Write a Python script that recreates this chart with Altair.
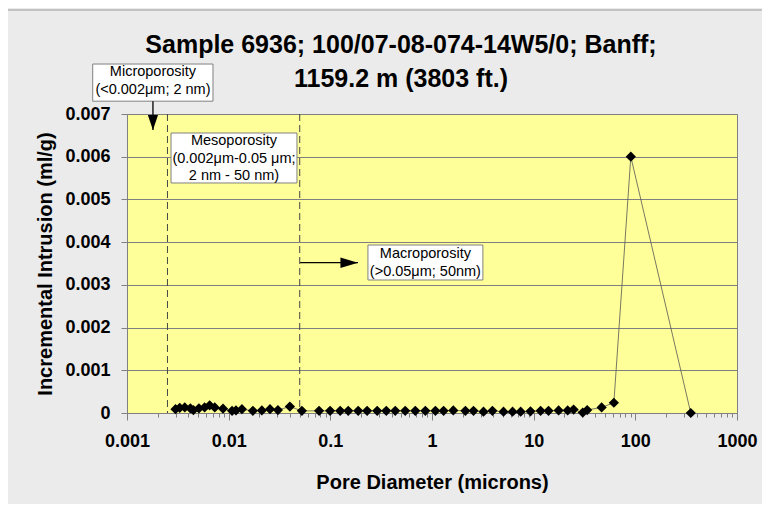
import altair as alt
import pandas as pd

# ---- data ----
diameter = [0.0030, 0.0033, 0.0037, 0.0042, 0.0045, 0.0051, 0.0058, 0.0065, 0.0073, 0.0088,
            0.0108, 0.0118, 0.0135, 0.0173, 0.0212, 0.0255, 0.0305, 0.0400, 0.0525,
            0.0775, 0.0995, 0.125, 0.150, 0.188, 0.230, 0.289, 0.355, 0.435, 0.545,
            0.685, 0.860, 1.08, 1.30, 1.62, 2.13, 2.56, 3.21, 3.93, 5.05, 6.20, 7.45,
            9.30, 11.7, 14.0, 17.6, 21.6, 24.7, 30.4, 33.6, 46.6, 61.5, 90.3, 351.0]
intrusion = [0.00009, 0.00012, 0.00013, 0.00011, 0.00007, 0.00011, 0.00013, 0.00018, 0.00013, 0.00010,
             0.00005, 0.00006, 0.00009, 0.00005, 0.00006, 0.00009, 0.00007, 0.00015, 0.00005,
             0.00005, 0.00005, 0.00005, 0.00005, 0.00005, 0.00005, 0.00005, 0.00005, 0.00005, 0.00005,
             0.00005, 0.00005, 0.00005, 0.00005, 0.00006, 0.00005, 0.00005, 0.00003, 0.00005, 0.00003,
             0.00003, 0.00003, 0.00004, 0.00005, 0.00005, 0.00006, 0.00006, 0.00008, 0.00001, 0.00007,
             0.00013, 0.00024, 0.0060, 0.0]

y_ticks = [0, 0.001, 0.002, 0.003, 0.004, 0.005, 0.006, 0.007]
x_major = [0.001, 0.01, 0.1, 1, 10, 100, 1000]
x_minor = [m * d for d in [0.001, 0.01, 0.1, 1, 10, 100] for m in range(2, 10)]
x_ticks = sorted(x_major + x_minor)

boundaries = [0.0025, 0.05]

box_x = [0.00046, 0.00271, 0.2344]
box_x2 = [0.00701, 0.04697, 3.166]
box_y = [0.00817, 0.006555, 0.003933]
box_y2 = [0.00730, 0.005385, 0.003114]
box_tx = [0.0018, 0.01128, 0.861]
box_ty = [0.00798, 0.00636, 0.00372]   # centre of first text line
box_text = ["Microporosity\n(<0.002\u03bcm; 2 nm)",
            "Mesoporosity\n(0.002\u03bcm-0.05 \u03bcm;\n2 nm - 50 nm)",
            "Macroporosity\n(>0.05\u03bcm; 50nm)"]

arrow_x = [0.0018, 0.0505]
arrow_x2 = [0.0018, 0.1868]
arrow_y = [0.00730, 0.003519]
arrow_y2 = [0.006625, 0.003519]

df = pd.DataFrame({"d": diameter, "v": intrusion})
bnd = pd.DataFrame({"d": boundaries})
boxes = pd.DataFrame({"x": box_x, "x2": box_x2, "y": box_y, "y2": box_y2,
                      "tx": box_tx, "ty": box_ty, "t": box_text})
arrows = pd.DataFrame({"x": arrow_x, "x2": arrow_x2, "y": arrow_y, "y2": arrow_y2})

FONT = "Liberation Sans"
GRAY = "#808080"
major_test = "indexof([0.001,0.01,0.1,1,10,100,1000], datum.value) >= 0"

xscale = alt.Scale(type="log", domain=[0.001, 1000], nice=False)
yscale = alt.Scale(domain=[0, 0.007], nice=False, zero=False)

xaxis = alt.Axis(values=x_ticks, title="Pore Diameter (microns)", grid=False,
                 labelExpr=major_test + " ? format(datum.value, '~g') : ''",
                 labelOverlap=False, labelFlush=False, labelBound=False,
                 labelPadding=12, titlePadding=22,
                 tickSize={"condition": {"test": major_test, "value": 7}, "value": 4})
yaxis = alt.Axis(values=y_ticks, title="Incremental Intrusion (ml/g)", grid=True,
                 format="~g", tickSize=6, labelPadding=11, titlePadding=9,
                 labelFlush=False)

X = alt.X("d:Q", scale=xscale, axis=xaxis)
Y = alt.Y("v:Q", scale=yscale, axis=yaxis)

border = alt.Chart(pd.DataFrame({"k": [0]})).mark_rect(
    fill=None, stroke="#9a9a9a", strokeWidth=1, clip=False
).encode(x=alt.value(-120), x2=alt.value(700), y=alt.value(-104), y2=alt.value(450))

line = alt.Chart(df).mark_line(color="#555555", strokeWidth=0.8).encode(x=X, y=Y)
points = alt.Chart(df).mark_point(shape="diamond", filled=True, color="black",
                                  size=105, opacity=1, clip=False).encode(x=X, y=Y)

dashes = alt.Chart(bnd).mark_rule(color="#444444", strokeDash=[7, 4], strokeWidth=1).encode(
    x=alt.X("d:Q", scale=xscale))

rects = alt.Chart(boxes).mark_rect(fill="white", stroke=GRAY, strokeWidth=1, clip=False).encode(
    x=alt.X("x:Q", scale=xscale), x2="x2:Q",
    y=alt.Y("y:Q", scale=yscale), y2="y2:Q")
texts = alt.Chart(boxes).mark_text(font=FONT, fontSize=14.5, lineBreak="\n", lineHeight=17.5,
                                   color="black", align="center", baseline="middle",
                                   clip=False).encode(
    x=alt.X("tx:Q", scale=xscale), y=alt.Y("ty:Q", scale=yscale), text="t:N")

arrow_lines = alt.Chart(arrows).mark_rule(color="black", strokeWidth=1.3, clip=False).encode(
    x=alt.X("x:Q", scale=xscale), x2="x2:Q",
    y=alt.Y("y:Q", scale=yscale), y2="y2:Q")
head_down = alt.Chart(arrows.iloc[[0]]).mark_point(
    shape="M0,0L-0.34,-1L0.34,-1Z", filled=True, color="black", size=900, opacity=1, clip=False
).encode(x=alt.X("x2:Q", scale=xscale), y=alt.Y("y2:Q", scale=yscale))
head_right = alt.Chart(arrows.iloc[[1]]).mark_point(
    shape="M0,0L-1,-0.3L-1,0.3Z", filled=True, color="black", size=1225, opacity=1, clip=False
).encode(x=alt.X("x2:Q", scale=xscale), y=alt.Y("y2:Q", scale=yscale))

chart = alt.layer(border, dashes, line, points, rects, texts, arrow_lines, head_down, head_right).properties(
    width=610, height=299,
    autosize=alt.AutoSizeParams(type="none"),
    padding={"left": 119, "top": 106, "right": 25, "bottom": 91},
    background="#EBEBEB",
    title=alt.TitleParams(
        text=["Sample 6936; 100/07-08-074-14W5/0; Banff;", "1159.2 m (3803 ft.)"],
        font=FONT, fontSize=25, fontWeight="bold", color="black",
        anchor="middle", frame="group", dx=-31, dy=82, offset=0, lineHeight=34),
).configure_view(fill="#FFFF99", stroke=GRAY, strokeWidth=1).configure_axis(
    labelFont=FONT, labelFontSize=18, labelFontWeight="bold", labelColor="black",
    titleFont=FONT, titleFontSize=20, titleFontWeight="bold", titleColor="black",
    domainColor=GRAY, tickColor=GRAY, gridColor=GRAY, gridWidth=1, domainWidth=1)

chart.save("out.html", embed_options={"renderer": "svg", "actions": False})
